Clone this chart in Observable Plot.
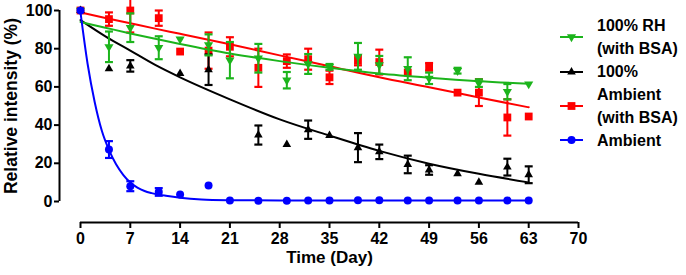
<!DOCTYPE html>
<html><head><meta charset="utf-8">
<script src="https://cdn.jsdelivr.net/npm/d3@7"></script>
<script src="https://cdn.jsdelivr.net/npm/@observablehq/plot@0.6"></script>
<style>
body{margin:0;background:#fff;}
#wrap{position:relative;width:686px;height:275px;font-family:"Liberation Sans",Arial,sans-serif;font-weight:bold;}
.leg{position:absolute;left:597px;font-size:16px;line-height:23px;color:#000;white-space:nowrap;}
.sym{position:absolute;left:556px;}
</style></head><body><div id="wrap"></div>
<script>
// ---- data ----
const days = [0,4,7,11,14,18,21,25,29,32,35,39,42,46,49,53,56,60,63];

const rhBsaValues  = [100,81,91,80.5,85,82,74,75,63.5,72,70.5,76,71.5,69.5,64.5,68.5,62,57.5,61.5];
const rhBsaErrors  = [0,8,7.5,6,0,5.5,9.5,7.5,4.3,5.2,1.5,7,4.7,6,3,1.5,2,4,0];

const rhValues     = [100,69.5,71,null,67,69,null,34.8,29.8,37.6,34.6,28.2,26,19.4,16.5,14.5,10.1,18,14];
const rhErrors     = [0,0,3,0,0,8,0,5,0,4.8,0,7.6,3.8,4.6,2.5,0,0,4.4,4.4];

const ambBsaValues = [100,95.5,100,96,78.5,79,81,70,73.5,74.5,65,73.8,73,67.5,70.5,57,57,44,44.5];
const ambBsaErrors = [0,3.5,11.5,4,0,9.5,5,10,3.5,5.5,3.5,2.5,6.5,0,2,0,7,9.5,0];

const ambValues    = [100,27.2,8,5,3.7,8.4,0.5,0.4,0.4,0.5,0.5,0.7,0.7,0.5,0.5,0.5,0.5,0.5,0.5];
const ambErrors    = [0,4.4,2.6,2,0,0,0,0,0,0,0,0,0,0,0,0,0,0,0];

// fitted curves
const fitDays        = [0,3.5,7,10.5,14,21,28,35,42,49,56,63];
const rhBsaFit       = [94,91,88,85.2,82.5,77.5,73.5,70,67,64.8,63,61.7];
const rhFit          = [95,86.5,79,71.5,65,53.5,43,34.5,26.5,19.8,14.5,10];
const ambBsaFit      = [99,96.1,93.3,90.5,87.8,82.3,76.5,70.8,65,59.8,54.5,49.3];
const ambFitDays     = [0,1,2,3,4,5,6,7,8,9,10,11,12,14,17,21,28,42,63];
const ambFit         = [99,72,52,37,27,19.5,14,10,7.3,5.5,4.4,3.6,3,2,1.1,0.7,0.5,0.5,0.5];

const seriesLabels = [["100% RH","(with BSA)"],["100%"],["Ambient","(with BSA)"],["Ambient"]];
const xTicks = [0,7,14,21,28,35,42,49,56,63,70];
const yTicks = [0,20,40,60,80,100];
const xLabel = "Time (Day)";
const yLabel = "Relative intensity (%)";

// ---- symbols ----
function tri(down) {
  return {draw(ctx, size) {
    const a = Math.sqrt(size * 4 / Math.sqrt(3)), h = a * Math.sqrt(3) / 2, s = down ? -1 : 1;
    ctx.moveTo(0, -s * 2 * h / 3); ctx.lineTo(a / 2, s * h / 3); ctx.lineTo(-a / 2, s * h / 3); ctx.closePath();
  }};
}
const cap = {draw(ctx, size) { const w = Math.sqrt(size) / 2; ctx.moveTo(-w, 0); ctx.lineTo(w, 0); }};

const GREEN = "#1cb41c", RED = "#ff0000", BLUE = "#0000ff", BLACK = "#000000";
const series = [
  {key:"rhBsa", label: seriesLabels[0], color: GREEN, values: rhBsaValues, errors: rhBsaErrors, symbol: tri(true), r: 3.4, fitX: fitDays, fitY: rhBsaFit},
  {key:"rh", label: seriesLabels[1], color: BLACK, values: rhValues, errors: rhErrors, symbol: tri(false), r: 3.2, fitX: fitDays, fitY: rhFit},
  {key:"ambBsa", label: seriesLabels[2], color: RED, values: ambBsaValues, errors: ambBsaErrors, symbol: "square", r: 4.4, fitX: fitDays, fitY: ambBsaFit},
  {key:"amb", label: seriesLabels[3], color: BLUE, values: ambValues, errors: ambErrors, symbol: "circle", r: 4, fitX: ambFitDays, fitY: ambFit}
];

const drawOrder = [2, 1, 0, 3];
const marks = [];
for (const i of drawOrder) {
  const s = series[i];
  const pts = days.map((d, j) => ({day: d, v: s.values[j], e: s.errors[j]})).filter(p => p.v != null);
  const errPts = pts.filter(p => p.e > 0);
  const fit = s.fitX.map((d, j) => ({day: d, v: s.fitY[j]}));
  marks.push(
    Plot.line(fit, {x: "day", y: "v", stroke: s.color, strokeWidth: 2, curve: "monotone-x"}),
    Plot.ruleX(errPts, {x: "day", y1: p => p.v - p.e, y2: p => p.v + p.e, stroke: s.color, strokeWidth: 2}),
    Plot.dot(errPts, {x: "day", y: p => p.v + p.e, symbol: cap, r: 4.5, stroke: s.color, fill: "none", strokeWidth: 2.2}),
    Plot.dot(errPts, {x: "day", y: p => p.v - p.e, symbol: cap, r: 4.5, stroke: s.color, fill: "none", strokeWidth: 2.2}),
    Plot.dot(pts, {x: "day", y: "v", symbol: s.symbol, r: s.r, fill: s.color, stroke: "none"})
  );
}

const chart = Plot.plot({
  width: 686, height: 275,
  marginLeft: 59, marginRight: 108, marginTop: 10, marginBottom: 53,
  style: {fontFamily: '"Liberation Sans", Arial, sans-serif', fontSize: "16px", fontWeight: "bold", color: "#000", background: "#fff"},
  x: {domain: [0, 70], range: [80, 578]},
  y: {domain: [0, 100], range: [201, 10]},
  marks: [
    Plot.ruleY([0], {x1: 0, x2: 70, dy: 21, strokeWidth: 2, stroke: "#000"}),
    Plot.ruleX([0], {y1: 0, y2: 100, dx: -21, strokeWidth: 2, stroke: "#000"}),
    Plot.axisX({ticks: xTicks, tickSize: 6, tickPadding: 4, strokeWidth: 2, label: null, fontSize: 16, tickFormat: d => String(d)}),
    Plot.axisY({ticks: yTicks, tickSize: 5, tickPadding: 2, strokeWidth: 2, label: null, fontSize: 16, tickFormat: d => String(d)}),
    Plot.text([xLabel], {x: 35, frameAnchor: "bottom", dy: 40, fontSize: 17, fontWeight: "bold"}),
    Plot.text([yLabel], {y: 50, frameAnchor: "left", textAnchor: "middle", dx: -48, rotate: -90, fontSize: 17.5, fontWeight: "bold"}),
    ...marks
  ]
});

const wrap = document.getElementById("wrap");
wrap.appendChild(chart);

// ---- legend (HTML, overlaid in the right margin) ----
const legendCenters = [36.5, 71.5, 106, 140];
series.forEach((s, i) => {
  const cy = legendCenters[i];
  const t = document.createElement("div");
  t.className = "leg";
  t.style.top = (cy - s.label.length * 23 / 2) + "px";
  t.innerHTML = s.label.join("<br>");
  wrap.appendChild(t);
  const svg = d3.create("svg").attr("class", "sym").attr("width", 30).attr("height", 16)
    .style("top", (cy - 8) + "px");
  svg.append("line").attr("x1", 4).attr("x2", 27).attr("y1", 8).attr("y2", 8).attr("stroke", s.color).attr("stroke-width", 2);
  const sym = typeof s.symbol === "string" ? (s.symbol === "square" ? d3.symbolSquare : d3.symbolCircle) : s.symbol;
  svg.append("path").attr("transform", "translate(15.5,8)")
    .attr("d", d3.symbol(sym, Math.PI * s.r * s.r)()).attr("fill", s.color);
  wrap.appendChild(svg.node());
});
</script>
</body></html>
